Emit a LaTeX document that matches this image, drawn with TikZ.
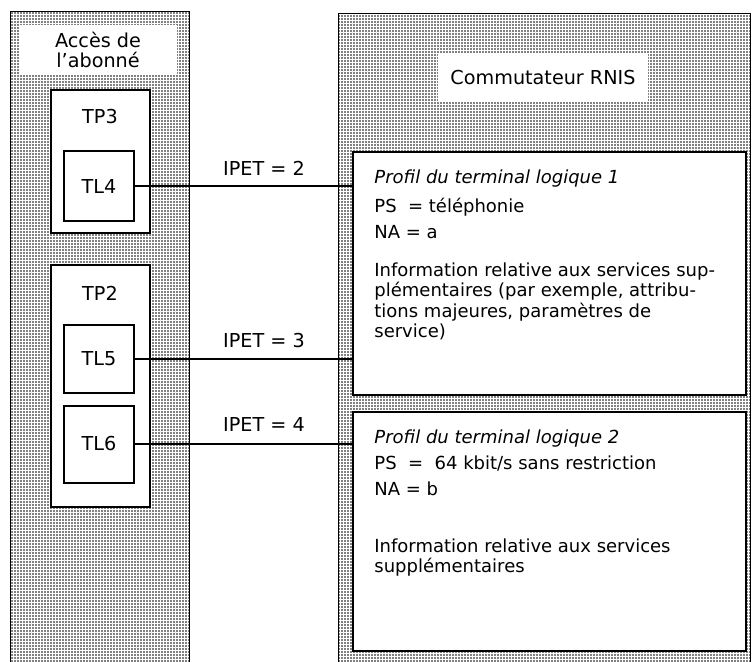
\documentclass[tikz,border=0pt]{standalone}
\usepackage{fontspec}
\setmainfont{DejaVu Sans}
\usetikzlibrary{positioning,patterns.meta}

\begin{document}
\begin{tikzpicture}[x=0.5pt,y=-0.5pt,every node/.style={font=\fontsize{9.6}{10.25}\selectfont}]
		\tikzstyle{panel}=[draw=black, line width=0.5pt, pattern={Dots[radius=0.42pt, distance=1.5pt]}, pattern color=black]
		\tikzstyle{blank}=[fill=white, inner sep=0pt]
		\tikzstyle{tp}=[draw, fill=white, line width=0.8pt, minimum width=49.5pt, inner sep=0pt]
		\tikzstyle{tl}=[draw, fill=white, line width=1pt, minimum width=35pt, inner sep=0pt]
		\tikzstyle{profil}=[draw, fill=white, line width=1pt, minimum width=196.5pt, inner sep=0pt]
		\tikzstyle{txt}=[anchor=base west, inner sep=0pt, font=\fontsize{9}{10.25}\selectfont]
		\tikzstyle{para}=[anchor=north west, inner sep=0pt, align=left, font=\fontsize{9}{10.25}\selectfont]
		\tikzstyle{connect}=[line width=0.9pt]
		\useasboundingbox (0,0) rectangle (752,661);
		\clip (0,0) rectangle (752,661);
		
		% shaded panels
		\path[panel] (11,11) rectangle (189,680);
		\path[panel] (338,13) rectangle (750,680);
		
		\node[blank, minimum width=79pt, minimum height=25pt, align=center] (acces) at (98,50) {Accès de\\l’abonné};
		\node[blank, minimum width=105pt, minimum height=24.5pt] (commut) at (543,77.5) {Commutateur RNIS};
		
		% terminaux physiques
		\node[tp, minimum height=71.5pt] (TP3) at (100.5,161.5) {};
		\node[tp, minimum height=121pt] (TP2) at (100.5,386) {};
		\node[] (TP3label) at (100,117) {TP3};
		\node[] (TP2label) at (100,293) {TP2};
		
		% terminaux logiques
		\node[tl, minimum height=35pt] (TL4) at (99,186) {TL4};
		\node[tl, minimum height=34pt] (TL5) at (99,359) {TL5};
		\node[tl, minimum height=38.5pt] (TL6) at (99,444) {TL6};
		
		% profils
		\node[profil, minimum height=121.5pt] (prof1) at (549.5,273.5) {};
		\node[profil, minimum height=119.5pt] (prof2) at (549.5,531.5) {};
		
		\node[txt] (titre1) at (374,183) {\itshape Profil du terminal logique 1};
		\node[txt] (ps1) at (374,212) {PS\ \ = téléphonie};
		\node[txt] (na1) at (374,238) {NA = a};
		\node[para] (info1) at (374,262) {Information relative aux services sup-\\plémentaires (par exemple, attribu-\\tions majeures, paramètres de\\service)};
		
		\node[txt] (titre2) at (374,443) {\itshape Profil du terminal logique 2};
		\node[txt] (ps2) at (374,469) {PS\ \ =\ \ 64 kbit/s sans restriction};
		\node[txt] (na2) at (374,495) {NA = b};
		\node[para] (info2) at (374,538) {Information relative aux services\\supplémentaires};
		
		% liaisons
		\draw[connect] (TL4.east) -- (TL4.east -| prof1.west);
		\draw[connect] (TL5.east) -- (TL5.east -| prof1.west);
		\draw[connect] (TL6.east) -- (TL6.east -| prof2.west);
		
		\node[] (ipet2) at (264,168) {IPET = 2};
		\node[] (ipet3) at (264,341) {IPET = 3};
		\node[] (ipet4) at (264,424) {IPET = 4};
		
	\end{tikzpicture}
\end{document}
